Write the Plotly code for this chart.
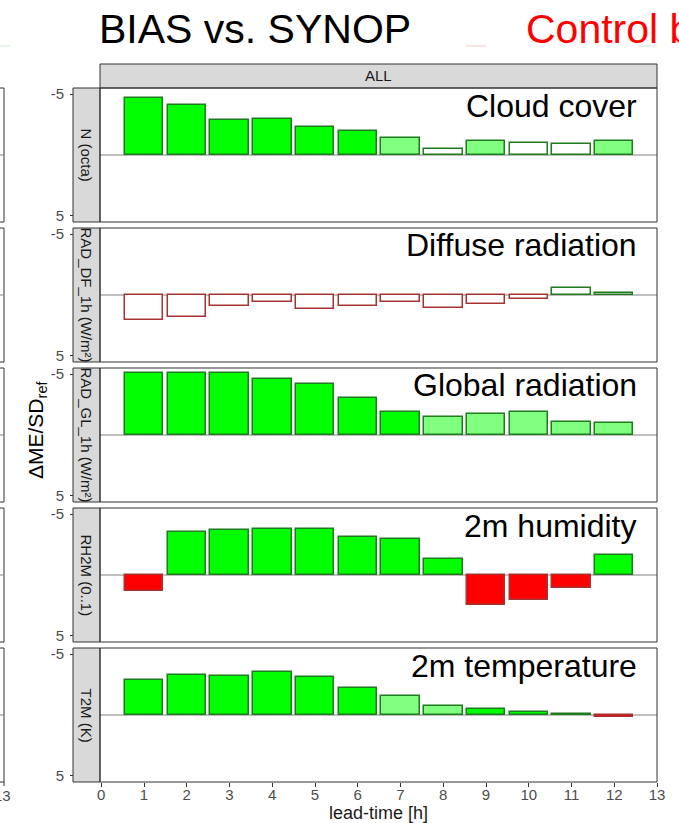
import plotly.graph_objects as go

# Figure size in pixels; margins are zero so paper coordinates map directly to pixels
W, H = 679, 823

# ---- data -------------------------------------------------------------------
lead_time = list(range(1, 13))
x_ticks = list(range(0, 14))

# Change of mean error relative to the reference spread (negative = improvement)
cloud_cover = [-4.68, -4.08, -2.85, -2.93, -2.30, -1.97, -1.42, -0.47, -1.15, -0.96, -0.88, -1.15]
cloud_sig = ["S", "S", "S", "S", "S", "S", "W", "N", "W", "N", "N", "W"]

diffuse_rad = [2.05, 1.81, 0.88, 0.55, 1.18, 0.88, 0.55, 1.10, 0.71, 0.36, -0.60, -0.20]
diffuse_sig = ["N"] * 12

global_rad = [-5.05, -5.05, -5.05, -4.60, -4.16, -3.01, -1.86, -1.51, -1.70, -1.86, -1.04, -0.96]
global_sig = ["S"] * 7 + ["W"] * 5

humidity_2m = [1.34, -3.56, -3.67, -3.75, -3.75, -3.12, -2.93, -1.29, 2.49, 2.05, 1.07, -1.62]
humidity_sig = ["S"] * 12

temperature_2m = [-2.91, -3.27, -3.24, -3.49, -3.16, -2.18, -1.60, -0.71, -0.52, -0.27, -0.11, 0.20]
temperature_sig = ["S", "S", "S", "S", "S", "S", "W", "W", "S", "S", "S", "S"]

strip_labels = ["N (octa)", "RAD_DF_1h (W/m²)", "RAD_GL_1h (W/m²)", "RH2M (0..1)", "T2M (K)"]
panel_titles = ["Cloud cover", "Diffuse radiation", "Global radiation", "2m humidity", "2m temperature"]
panel_values = [cloud_cover, diffuse_rad, global_rad, humidity_2m, temperature_2m]
panel_sig = [cloud_sig, diffuse_sig, global_sig, humidity_sig, temperature_sig]

# ---- styling ----------------------------------------------------------------
FONT = "Liberation Sans, Arial, Helvetica, sans-serif"
FILL_GOOD = {"S": "#00FF00", "W": "#80FF80", "N": "#FFFFFF"}
FILL_BAD = {"S": "#FF0000", "W": "#FF8080", "N": "#FFFFFF"}
EDGE_GOOD = "#1E7B1E"
EDGE_BAD = "#A83232"


def px(x):
    return x / W


def py(y):
    return 1 - y / H


PANEL_LEFT, PANEL_RIGHT = 100, 657
STRIP_LEFT = 73
FIRST_TOP, PANEL_H, PANEL_STEP = 88, 134, 140

fig = go.Figure()
shapes = []
annotations = []
layout_axes = {}

for i, (vals, sig) in enumerate(zip(panel_values, panel_sig)):
    k = i + 1
    sfx = "" if k == 1 else str(k)
    top = FIRST_TOP + i * PANEL_STEP
    bottom = top + PANEL_H
    last = k == len(panel_values)

    fills = [(FILL_GOOD if v <= 0 else FILL_BAD)[s] for v, s in zip(vals, sig)]
    edges = [EDGE_GOOD if v <= 0 else EDGE_BAD for v in vals]

    fig.add_trace(go.Bar(
        x=lead_time, y=vals, width=0.9,
        marker=dict(color=fills, line=dict(color=edges, width=1.5)),
        xaxis=f"x{sfx}", yaxis=f"y{sfx}", showlegend=False, hoverinfo="skip",
    ))

    layout_axes[f"xaxis{sfx}"] = dict(
        domain=[px(PANEL_LEFT), px(PANEL_RIGHT)], range=[-0.03, 13.0],
        anchor=f"y{sfx}", showgrid=False, zeroline=False, showline=False,
        automargin=False,
        tickmode="array", tickvals=x_ticks,
        showticklabels=last, ticks="outside" if last else "",
        ticklen=4, tickcolor="#333333", tickwidth=1,
        ticklabelstandoff=-5,
        tickfont=dict(family=FONT, size=15, color="#4D4D4D"),
    )
    layout_axes[f"yaxis{sfx}"] = dict(
        domain=[py(bottom), py(top)], range=[5.5, -5.5],
        anchor="free", position=px(STRIP_LEFT), side="left",
        showgrid=False, zeroline=False, showline=False,
        automargin=False,
        tickmode="array", tickvals=[-5, 5], ticktext=["-5", "5"],
        ticks="outside", ticklen=3, tickcolor="#333333", tickwidth=1,
        ticklabelstandoff=3,
        tickfont=dict(family=FONT, size=15, color="#4D4D4D"),
    )

    # zero reference line
    shapes.append(dict(type="line", xref=f"x{sfx} domain", x0=0, x1=1,
                       yref=f"y{sfx}", y0=0, y1=0,
                       line=dict(color="#808080", width=1), layer="below"))
    # panel border
    shapes.append(dict(type="rect", xref="paper", yref="paper",
                       x0=px(PANEL_LEFT), x1=px(PANEL_RIGHT), y0=py(bottom), y1=py(top),
                       line=dict(color="#333333", width=1), fillcolor="rgba(0,0,0,0)"))
    # facet strip on the left
    shapes.append(dict(type="rect", xref="paper", yref="paper",
                       x0=px(STRIP_LEFT), x1=px(PANEL_LEFT), y0=py(bottom), y1=py(top),
                       line=dict(color="#333333", width=1), fillcolor="#D9D9D9", layer="below"))
    annotations.append(dict(text=strip_labels[i], xref="paper", yref="paper",
                            x=px((STRIP_LEFT + PANEL_LEFT) / 2), y=py((top + bottom) / 2),
                            textangle=90, showarrow=False, xanchor="center", yanchor="middle",
                            font=dict(family=FONT, size=15, color="#1A1A1A")))
    # variable name inside the panel
    annotations.append(dict(text=panel_titles[i], xref="paper", yref="paper",
                            x=px(639), y=py(top - 2.5), showarrow=False,
                            xanchor="right", yanchor="top",
                            font=dict(family=FONT, size=32, color="#000000")))

    # neighbouring chart's panel edge at the far left
    shapes.append(dict(type="rect", xref="paper", yref="paper",
                       x0=px(-30), x1=px(4), y0=py(bottom), y1=py(top),
                       line=dict(color="#333333", width=1), fillcolor="rgba(0,0,0,0)"))
    shapes.append(dict(type="line", xref="paper", yref="paper",
                       x0=px(-30), x1=px(4), y0=py(top + 67), y1=py(top + 67),
                       line=dict(color="#808080", width=1)))

last_bottom = FIRST_TOP + (len(panel_values) - 1) * PANEL_STEP + PANEL_H

# top strip "ALL"
shapes.append(dict(type="rect", xref="paper", yref="paper",
                   x0=px(PANEL_LEFT), x1=px(PANEL_RIGHT), y0=py(FIRST_TOP), y1=py(64),
                   line=dict(color="#333333", width=1), fillcolor="#D9D9D9", layer="below"))
annotations.append(dict(text="ALL", xref="paper", yref="paper",
                        x=px((PANEL_LEFT + PANEL_RIGHT) / 2), y=py(76), showarrow=False,
                        xanchor="center", yanchor="middle",
                        font=dict(family=FONT, size=15, color="#1A1A1A")))

# neighbouring chart's last x tick
shapes.append(dict(type="line", xref="paper", yref="paper",
                   x0=px(4), x1=px(4), y0=py(last_bottom), y1=py(last_bottom + 4),
                   line=dict(color="#333333", width=1)))
annotations.append(dict(text="13", xref="paper", yref="paper", x=px(2.5), y=py(795),
                        showarrow=False, xanchor="center", yanchor="middle",
                        font=dict(family=FONT, size=15, color="#4D4D4D")))

# faint legend fragments under the heading
for x0, x1, col in [(-5, 10, "#CFE8CF"), (466, 486, "#F2C8C8"), (637, 657, "#CFE8CF")]:
    shapes.append(dict(type="line", xref="paper", yref="paper",
                       x0=px(x0), x1=px(x1), y0=py(46), y1=py(46),
                       line=dict(color=col, width=1)))

# headings
annotations.append(dict(text="BIAS vs. SYNOP", xref="paper", yref="paper",
                        x=px(97), y=py(3.5), showarrow=False, xanchor="left", yanchor="top",
                        font=dict(family=FONT, size=41, color="#000000")))
annotations.append(dict(text="Control b", xref="paper", yref="paper",
                        x=px(524), y=py(3.5), showarrow=False, xanchor="left", yanchor="top",
                        font=dict(family=FONT, size=41, color="#FF0000")))

# axis titles
annotations.append(dict(text="ΔME/SD<sub>ref</sub>", xref="paper", yref="paper",
                        x=px(37), y=py(430), textangle=-90, showarrow=False,
                        xanchor="center", yanchor="middle",
                        font=dict(family=FONT, size=21, color="#000000")))
annotations.append(dict(text="lead-time [h]", xref="paper", yref="paper",
                        x=px(378.5), y=py(813), showarrow=False,
                        xanchor="center", yanchor="middle",
                        font=dict(family=FONT, size=18, color="#1A1A1A")))

fig.update_layout(
    template="none",
    width=W, height=H, autosize=False,
    margin=dict(l=0, r=0, t=0, b=0, pad=0, autoexpand=False),
    paper_bgcolor="#FFFFFF", plot_bgcolor="rgba(0,0,0,0)",
    bargap=0, shapes=shapes, annotations=annotations,
    font=dict(family=FONT),
    **layout_axes,
)

fig.write_html("out.html")
